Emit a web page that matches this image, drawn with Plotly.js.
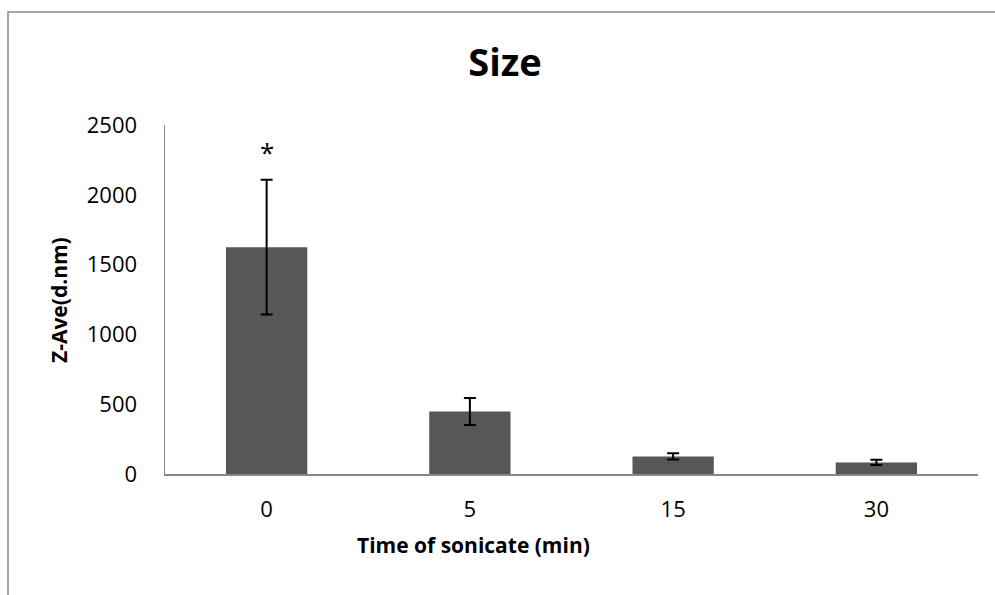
<!DOCTYPE html>
<html>
<head>
<meta charset="utf-8">
<script src="https://cdn.plot.ly/plotly-3.0.1.min.js"></script>
<style>
  html, body { margin: 0; padding: 0; background: #ffffff; }
  #chart { width: 995px; height: 595px; }
</style>
</head>
<body>
<div id="chart"></div>
<script>
// Data
const categories = ['0', '5', '15', '30'];
const zAverage = [1625, 448, 126, 83];
const errorValues = [483, 97, 22, 19];
const markerLabels = ['*', '', '', ''];
const yTickValues = [0, 500, 1000, 1500, 2000, 2500];
const xTitle = 'Time of sonicate (min)';
const yTitle = 'Z-Ave(d.nm)';

const W = 995, H = 595;
const margin = { l: 165, r: 17, t: 125, b: 121 };
const plotW = W - margin.l - margin.r;
const plotH = H - margin.t - margin.b;
const px2x = (px) => (px - margin.l) / plotW;
const px2y = (py) => (H - margin.b - py) / plotH;

const fontFam = '"Open Sans", "DejaVu Sans", sans-serif';

const trace = {
  type: 'bar',
  x: categories,
  y: zAverage,
  width: 0.4,
  marker: { color: '#575757', line: { width: 0 } },
  error_y: {
    type: 'data',
    array: errorValues,
    visible: true,
    color: '#000000',
    thickness: 2,
    width: 6
  },
  hoverinfo: 'x+y'
};

const annotations = categories.map((c, i) => ({
  x: c,
  y: zAverage[i] + errorValues[i],
  xref: 'x', yref: 'y',
  text: markerLabels[i],
  showarrow: false,
  yanchor: 'bottom',
  yshift: 8,
  font: { family: fontFam, size: 26, color: '#000000' }
})).filter(a => a.text !== '');

annotations.push({
  xref: 'paper', yref: 'paper',
  x: px2x(473), y: px2y(545),
  xanchor: 'center', yanchor: 'middle',
  text: '<b>' + xTitle + '</b>',
  showarrow: false,
  font: { family: fontFam, size: 21, color: '#000000' }
});
annotations.push({
  xref: 'paper', yref: 'paper',
  x: px2x(59), y: px2y(300),
  xanchor: 'center', yanchor: 'middle',
  textangle: -90,
  text: '<b>' + yTitle + '</b>',
  showarrow: false,
  font: { family: fontFam, size: 21, color: '#000000' }
});

const layout = {
  width: W, height: H,
  margin: margin,
  paper_bgcolor: '#ffffff',
  plot_bgcolor: '#ffffff',
  showlegend: false,
  bargap: 0.6,
  title: {
    text: '<b>Size</b>',
    x: 505 / W, xref: 'container', xanchor: 'center',
    y: 1 - 63 / H, yref: 'container', yanchor: 'middle',
    font: { family: fontFam, size: 38, color: '#000000' }
  },
  xaxis: {
    type: 'category',
    categoryorder: 'array',
    categoryarray: categories,
    range: [-0.5, 3.5],
    showline: true,
    linecolor: '#878787',
    linewidth: 1.5,
    ticks: '',
    showgrid: false,
    zeroline: false,
    ticklabelstandoff: 15,
    tickfont: { family: fontFam, size: 22, color: '#000000' }
  },
  yaxis: {
    range: [0, 2500],
    tickvals: yTickValues,
    ticktext: yTickValues.map(String),
    showline: true,
    linecolor: '#878787',
    linewidth: 1.5,
    ticks: '',
    showgrid: false,
    zeroline: false,
    ticklabelstandoff: 22,
    tickfont: { family: fontFam, size: 22, color: '#000000' }
  },
  annotations: annotations,
  shapes: [{
    type: 'rect',
    xref: 'paper', yref: 'paper',
    x0: px2x(8), x1: px2x(1010),
    y0: px2y(610), y1: px2y(12),
    line: { color: '#878787', width: 1.5 },
    fillcolor: 'rgba(0,0,0,0)',
    layer: 'below'
  }]
};

Plotly.newPlot('chart', [trace], layout, { displayModeBar: false, staticPlot: true });
</script>
</body>
</html>
